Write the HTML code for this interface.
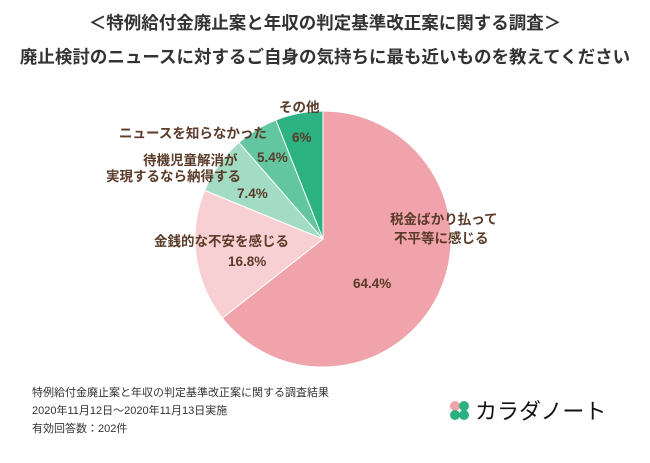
<!DOCTYPE html>
<html><head><meta charset="utf-8"><style>
body{margin:0;background:#fff;width:650px;height:458px;overflow:hidden;font-family:"Liberation Sans","Noto Sans CJK JP",sans-serif}
</style></head><body>
<svg width="650" height="458" font-family="Liberation Sans, Noto Sans CJK JP, sans-serif">
<text x="325" y="29" text-anchor="middle" font-size="17.5" font-weight="bold" fill="#333">＜特例給付金廃止案と年収の判定基準改正案に関する調査＞</text>
<text x="325" y="63" text-anchor="middle" font-size="17.5" font-weight="bold" fill="#333">廃止検討のニュースに対するご自身の気持ちに最も近いものを教えてください</text>
<g id="slices"></g>
<g font-size="13.5" font-weight="bold" fill="#5a3a28">
<text x="390" y="224">税金ばかり払って</text>
<text x="394" y="243">不平等に感じる</text>
<text x="353" y="288">64.4%</text>
<text x="154" y="246">金銭的な不安を感じる</text>
<text x="228" y="266">16.8%</text>
<text x="143" y="165">待機児童解消が</text>
<text x="106" y="181">実現するなら納得する</text>
<text x="237" y="198">7.4%</text>
<text x="119" y="138">ニュースを知らなかった</text>
<text x="257" y="162">5.4%</text>
<text x="279" y="112">その他</text>
<text x="292" y="142">6%</text>
</g>
<g font-size="11" fill="#333">
<text x="32" y="396">特例給付金廃止案と年収の判定基準改正案に関する調査結果</text>
<text x="32" y="414">2020年11月12日～2020年11月13日実施</text>
<text x="32" y="432">有効回答数：202件</text>
</g>
<g>
<circle cx="455" cy="406" r="5" fill="#f0a3aa"/><circle cx="464" cy="406" r="5" fill="#2bb07f"/>
<circle cx="455" cy="415" r="5" fill="#2bb07f"/><circle cx="464" cy="415" r="5" fill="#2bb07f"/>
<text x="475" y="419" font-size="22" fill="#111">カラダノート</text>
</g>
</svg>
<script>
const categories=["税金ばかり払って不平等に感じる","金銭的な不安を感じる","待機児童解消が実現するなら納得する","ニュースを知らなかった","その他"];
const values=[64.4,16.8,7.4,5.4,6];
const colors=["#f0a3aa","#f8d0d3","#a3dcc4","#62c7a0","#2db283"];
const cx=323,cy=239,r=128;
const g=document.getElementById('slices');
const total=values.reduce((a,b)=>a+b,0);
let a0=0;
values.forEach((v,i)=>{
  const a1=a0+v/total*2*Math.PI;
  const x0=cx+r*Math.sin(a0),y0=cy-r*Math.cos(a0),x1=cx+r*Math.sin(a1),y1=cy-r*Math.cos(a1);
  const p=document.createElementNS('http://www.w3.org/2000/svg','path');
  p.setAttribute('d',`M${cx},${cy}L${x0},${y0}A${r},${r} 0 ${a1-a0>Math.PI?1:0} 1 ${x1},${y1}Z`);
  p.setAttribute('fill',colors[i]);
  p.setAttribute('stroke','#fff');p.setAttribute('stroke-width','1');
  
  
  g.appendChild(p);
  a0=a1;
});
</script>
</body></html>
